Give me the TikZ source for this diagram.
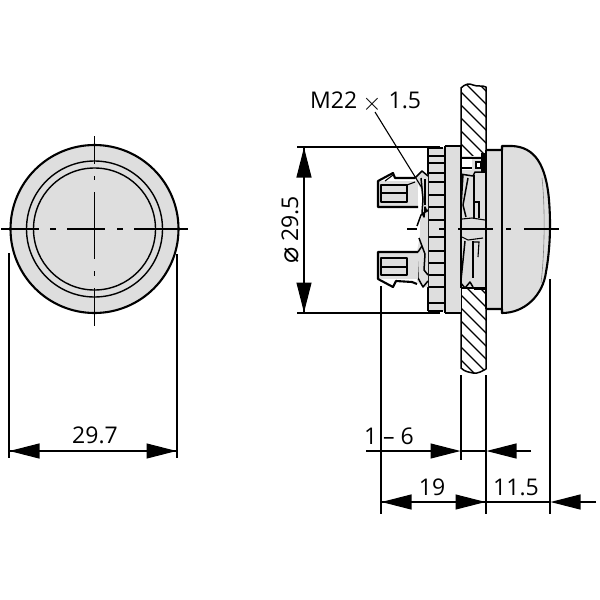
\documentclass[tikz,border=0pt]{standalone}
\usepackage{fontspec}
\setmainfont{Open Sans}
\newfontfamily\symfont{DejaVu Sans}
\usetikzlibrary{arrows.meta}
\definecolor{bodygrey}{HTML}{DEDEDE}
\tikzset{
  px/.style={x=1pt,y=-1pt},
  outline/.style={draw=black,line width=2.1pt,line join=round},
  thick2/.style={draw=black,line width=1.5pt,line join=round},
  thin2/.style={draw=black,line width=1.1pt},
  dimline/.style={draw=black,line width=1.1pt},
  extline/.style={draw=black,line width=1.2pt},
  dimtip/.style={-{Triangle[length=30pt,width=15pt,fill=black]}},
  dimtext/.style={font=\fontsize{23}{23}\selectfont,inner sep=0pt},
}
\begin{document}
\begin{tikzpicture}[px]
\useasboundingbox (0,0) rectangle (600,600);
\fill[white] (0,0) rectangle (600,600);

% ===== front view
\coordinate (fc) at (94.5,229);
\fill[bodygrey] (fc) circle (84);
\draw[line width=2.1pt] (fc) circle (84);
\draw[line width=1.4pt] (fc) circle (68);
\draw[line width=1.4pt] (fc) circle (61);
\draw[line width=1.1pt] (1,229) -- (39,229);
\draw[line width=1.1pt] (50,229) -- (56,229);
\draw[line width=1.1pt] (67,229) -- (105,229);
\draw[line width=1.1pt] (117,229) -- (123,229);
\draw[line width=1.1pt] (134,229) -- (188,229);
\draw[line width=1.1pt] (94.5,136) -- (94.5,164);
\draw[line width=1.1pt] (94.5,176) -- (94.5,180);
\draw[line width=1.1pt] (94.5,192) -- (94.5,259);
\draw[line width=1.1pt] (94.5,271) -- (94.5,276);
\draw[line width=1.1pt] (94.5,288) -- (94.5,326);

% 29.7
\coordinate (al) at (9,253);
\coordinate (alb) at (9,458);
\coordinate (ar) at (177,254);
\coordinate (arb) at (177,458);
\draw[extline] (al) -- (alb);
\draw[extline] (ar) -- (arb);
\coordinate (d1a) at (9.5,451);
\coordinate (d1b) at (176.5,451);
\draw[dimline] (d1a) -- (d1b);
\draw[dimline,dimtip] (40,451) -- (d1a);
\draw[dimline,dimtip] (146,451) -- (d1b);
\node[dimtext,anchor=base] (t297) at (95,443) {29.7};

% ===== side view: panel
\begin{scope}
\clip (461,88) .. controls (465,84) and (469,83) .. (473,85) .. controls (478,87) and (482,85) .. (486,87)
  -- (486,156) -- (461,156) -- cycle;
\foreach \y in {60,73,...,170} \draw[line width=1.1pt] (455,\y) -- (495,\y+40);
\end{scope}
\draw[thick2] (461,156) -- (461,88) .. controls (465,84) and (469,83) .. (473,85) .. controls (478,87) and (482,85) .. (486,87) -- (486,156);
\begin{scope}
\clip (461,288) -- (486,288) -- (486,369) .. controls (482,371) and (478,374) .. (473,373) .. controls (469,372) and (465,372) .. (461,368) -- cycle;
\foreach \y in {250,263,...,370} \draw[line width=1.1pt] (455,\y) -- (495,\y+40);
\end{scope}
\draw[thick2] (461,288) -- (461,368) .. controls (465,372) and (469,372) .. (473,373) .. controls (478,374) and (482,371) .. (486,369) -- (486,288);

% central section behind panel
\fill[bodygrey] (461,156) rectangle (486,288);
\fill[white] (462,158) rectangle (472,170);
\draw[thin2] (462,158) -- (481,158);
\draw[thin2] (462,168) -- (472,168);
\draw[line width=1.1pt,fill=white] (476,162) rectangle (481,168);
\fill[black] (481,153) rectangle (485.5,172);
\draw[thick2] (460,174) -- (473,176) -- (475,172) -- (485,172);
\draw[thick2] (463,174) -- (461,207);
\draw[thick2] (468,178) -- (463,205) -- (466,217);
\draw[thin2] (474,175) -- (474,218);
\draw[thin2] (474,202) -- (479,202) -- (479,218);
\draw[thin2] (462,219) -- (472,218) -- (485,220);
\draw[thin2] (462,237) -- (468,240) -- (483,238);
\draw[thick2] (465,241) -- (461,280);
\draw[thick2] (473,241) -- (473,278);
\draw[thin2] (474,242) -- (479,242) -- (478,257);
\draw[thick2] (460,282) -- (465,288) -- (470,282) -- (473,287);
\draw[thick2] (461,288) -- (486,288);
\draw[line width=2.4pt] (474,289) -- (486,289);
\draw[thick2] (461,146) -- (461,288);
\draw[thin2] (485.5,172) -- (485.5,288);

% front body
\fill[bodygrey] (486,150) -- (502,150) -- (502,146) -- (512,146)
  .. controls (535,147) and (546,165) .. (549,200)
  .. controls (551,225) and (550,250) .. (546,272)
  .. controls (543,295) and (525,313) .. (502,313) -- (502,309) -- (486,309) -- cycle;
\draw[outline] (486,150) -- (502,150) -- (502,146) -- (512,146)
  .. controls (535,147) and (546,165) .. (549,200)
  .. controls (551,225) and (550,250) .. (546,272)
  .. controls (543,295) and (525,313) .. (502,313) -- (502,309) -- (486,309);
\draw[thin2] (486,150) -- (486,309);
\draw[thick2] (502,150) -- (502,309);
\draw[line width=0.6pt,draw=gray] (542,178) .. controls (545,205) and (545,250) .. (541,283);

% threaded body
\fill[bodygrey] (428,148) rectangle (445,311);
\fill[bodygrey] (445,146) rectangle (461,313);
\draw[outline] (428,311) -- (428,148) -- (443,148);
\draw[outline] (445,146) -- (461,146);
\draw[outline] (428,311) -- (443,311);
\draw[outline] (445,313) -- (461,313);
\draw[thick2] (445,146) -- (445,313);
\draw[thick2] (461,146) -- (461,288);
\foreach \y in {156,163,173,182,195,207,220,237,251,263,275,287,303}
  \draw[line width=1.1pt] (428,\y) -- (445,\y);

% thread wedge
\fill[bodygrey] (415,178) -- (422,171) -- (428,175) -- (428,287) -- (423,287) -- (417,281) -- (417,252) -- (420,235) -- (420,222) -- (424,210) -- (421,190) -- cycle;
\draw[thick2] (415,178) -- (422,171) -- (428,176);
\draw[thick2] (421,178) -- (423,199) -- (422,213) -- (424,217) -- (425,207) -- (427,212);
\draw[thick2] (428,210) -- (421,215) -- (417,226);
\draw[thick2] (419,238) -- (422,246) -- (418,252);
\draw[thick2] (422,246) -- (425,254) -- (424,270) -- (428,275);
\draw[thick2] (417,256) -- (418,278) -- (423,287) -- (428,281);
\draw[thin2] (425,179) -- (425,205);

% clips
\fill[bodygrey] (378,181) rectangle (418,207);
\draw[outline] (418,207) -- (378,207) -- (378,181) -- (393,173) -- (395,178) -- (415,178);
\draw[thick2] (381,185) rectangle (407,202);
\draw[thin2] (381,193) -- (407,193);
\draw[thin2] (385,181) -- (393,175);
\draw[thin2] (407,185) -- (415,182);

\fill[bodygrey] (378,252) rectangle (418,279);
\draw[outline] (418,252) -- (378,252) -- (378,279) -- (393,287) -- (396,281) -- (412,282) -- (417,284);
\draw[thick2] (381,258) rectangle (407,275);
\draw[thin2] (381,267) -- (407,267);

% centre line
\draw[line width=1.1pt] (407,229) -- (417,229);
\draw[line width=1.1pt] (439,229) -- (444,229);
\draw[line width=1.1pt] (458,229) -- (493,229);
\draw[line width=1.1pt] (506,229) -- (511,229);
\draw[line width=1.1pt] (524,229) -- (559,229);

% diameter
\coordinate (et) at (440,147);
\coordinate (etl) at (297,147);
\coordinate (eb) at (440,313);
\coordinate (ebl) at (297,313);
\draw[extline] (etl) -- (et);
\draw[extline] (ebl) -- (eb);
\coordinate (dt) at (304,147.5);
\coordinate (db) at (304,312.5);
\draw[dimline] (dt) -- (db);
\draw[dimline,dimtip] (304,178) -- (dt);
\draw[dimline,dimtip] (304,282) -- (db);
\node[dimtext,rotate=90,anchor=base] (t295) at (298,230) {{\symfont\fontsize{27}{27}\selectfont ⌀}\hspace{6pt}29.5};

% thread label
\node[dimtext,anchor=base west] (tm22) at (310,108) {M22\hspace{5pt}\raisebox{-2.5pt}{$\times$}\hspace{7pt}1.5};
\coordinate (lead) at (422,188);
\coordinate (leads) at (375,112);
\draw[line width=1.1pt] (leads) -- (lead);

% lower dims
\coordinate (x1) at (381,286);\coordinate (x1b) at (381,514);
\coordinate (x2) at (461,375);\coordinate (x2b) at (461,460);
\coordinate (x3) at (486,375);\coordinate (x3b) at (486,514);
\coordinate (x4) at (550,279);\coordinate (x4b) at (550,514);
\draw[extline] (x1) -- (x1b);
\draw[extline] (x2) -- (x2b);
\draw[extline] (x3) -- (x3b);
\draw[extline] (x4) -- (x4b);

\coordinate (s1) at (366,451);\coordinate (s1t) at (460.5,451);
\coordinate (s2) at (531,451);\coordinate (s2t) at (486.5,451);
\draw[dimline,dimtip] (s1) -- (s1t);
\draw[dimline,dimtip] (s2) -- (s2t);
\draw[dimline] (s1t) -- (s2t);
\node[dimtext,anchor=base] (t16) at (389,444) {1 – 6};

\coordinate (l1) at (381.5,502);\coordinate (l2) at (485.5,502);\coordinate (l3) at (550.5,502);\coordinate (l4) at (596,502);
\draw[dimline] (l1) -- (l2);
\draw[dimline,dimtip] (412,502) -- (l1);
\draw[dimline,dimtip] (455,502) -- (l2);
\draw[dimline,dimtip] (l4) -- (l3);
\draw[dimline] (l2) -- (l3);
\node[dimtext,anchor=base] (t19) at (432,495) {19};
\node[dimtext,anchor=base] (t115) at (516,495) {11.5};
\end{tikzpicture}
\end{document}
